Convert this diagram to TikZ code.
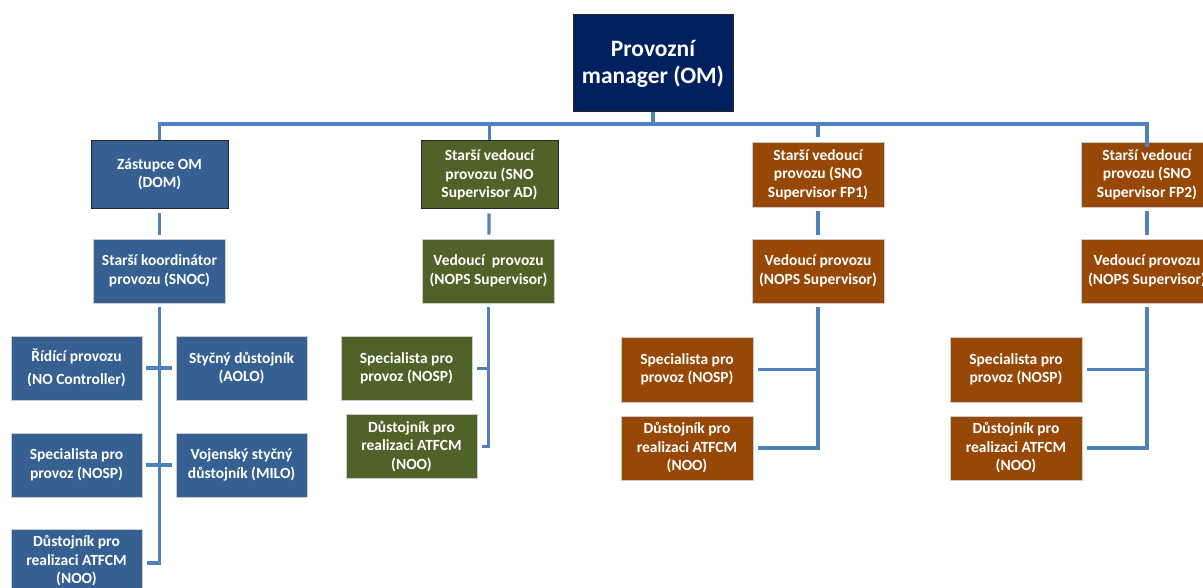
\documentclass[tikz,border=0pt]{standalone}
\usepackage{fontspec}
\setmainfont{Carlito}
\usetikzlibrary{positioning}
\definecolor{ChiefNavy}{RGB}{0,32,96}
\definecolor{DeputyBlue}{RGB}{54,96,146}
\definecolor{AdGreen}{RGB}{79,98,40}
\definecolor{FpBrown}{RGB}{151,71,6}
\definecolor{LinkBlue}{RGB}{79,129,189}

\begin{document}
\begin{tikzpicture}[x=1pt,y=-1pt,
    box/.style={rectangle,inner sep=0pt,align=center,text=white,
      font=\fontsize{15.5}{18.5}\selectfont\bfseries,
      minimum width=132pt,minimum height=64pt,draw=white!80!black,line width=0.6pt},
    headbox/.style={box,draw=black!85,line width=1pt,minimum height=68pt},
    link/.style={draw=LinkBlue,line width=3.2pt},
    gap/.style={shorten <=4pt,shorten >=4pt}]
  \useasboundingbox (0,0) rectangle (1203,588);

  \node[headbox,fill=ChiefNavy,minimum width=160pt,minimum height=97pt,
    font=\fontsize{23.5}{27}\selectfont\bfseries] (om) at (653,63.5) {Provozní\\manager (OM)};

  \node[headbox,fill=DeputyBlue,minimum width=137pt] (dom) at (159.5,174.5) {Zástupce OM\\(DOM)};
  \node[box,fill=DeputyBlue] (snoc) at (159.5,271) {Starší koordinátor\\provozu (SNOC)};
  \node[box,fill=DeputyBlue,minimum width=131pt] (ridici) at (76.5,368) {Řídící provozu\\[5pt](NO Controller)};
  \node[box,fill=DeputyBlue,minimum width=131pt] (aolo) at (241.5,368) {Styčný důstojník\\(AOLO)};
  \node[box,fill=DeputyBlue,minimum width=131pt] (nosp1) at (76.5,465) {Specialista pro\\provoz (NOSP)};
  \node[box,fill=DeputyBlue,minimum width=131pt] (milo) at (241.5,465) {Vojenský styčný\\důstojník (MILO)};
  \node[box,fill=DeputyBlue,minimum width=131pt] (noo1) at (76.5,561) {Důstojník pro\\realizaci ATFCM\\(NOO)};

  \node[headbox,fill=AdGreen,minimum width=137pt] (snoad) at (489.5,175) {Starší vedoucí\\provozu (SNO\\Supervisor AD)};
  \node[box,fill=AdGreen] (ved1) at (488.5,271) {Vedoucí\ \ provozu\\(NOPS Supervisor)};
  \node[box,fill=AdGreen,minimum width=131pt] (nosp2) at (406.5,368.5) {Specialista pro\\provoz (NOSP)};
  \node[box,fill=AdGreen,minimum width=131pt] (noo2) at (411.5,446.5) {Důstojník pro\\realizaci ATFCM\\(NOO)};

  \node[box,fill=FpBrown,minimum height=65pt] (snofp1) at (818,174.5) {Starší vedoucí\\provozu (SNO\\Supervisor FP1)};
  \node[box,fill=FpBrown] (ved2) at (818,271) {Vedoucí provozu\\(NOPS Supervisor)};
  \node[box,fill=FpBrown,minimum height=65pt] (nosp3) at (687,369.5) {Specialista pro\\provoz (NOSP)};
  \node[box,fill=FpBrown] (noo3) at (687,448) {Důstojník pro\\realizaci ATFCM\\(NOO)};

  \node[box,fill=FpBrown,minimum height=65pt] (snofp2) at (1147,174.5) {Starší vedoucí\\provozu (SNO\\Supervisor FP2)};
  \node[box,fill=FpBrown] (ved3) at (1147,271) {Vedoucí provozu\\(NOPS Supervisor)};
  \node[box,fill=FpBrown,minimum height=65pt] (nosp4) at (1016,369.5) {Specialista pro\\provoz (NOSP)};
  \node[box,fill=FpBrown] (noo4) at (1016,448) {Důstojník pro\\realizaci ATFCM\\(NOO)};

  \coordinate (bus) at (0,124);
  \draw[link] (om.south) -- (om.south |- bus);
  \draw[link] (dom.north) |- (snofp2.north |- bus) -- ([yshift=-5pt]snofp2.north);
  \draw[link] (snoad.north) -- (snoad.north |- bus);
  \draw[link,shorten >=5pt] (snofp1.north |- bus) -- (snofp1.north);

  \draw[link,gap] (dom) -- (snoc);
  \draw[link,gap] (snoad) -- (ved1);
  \draw[link,gap] (snofp1) -- (ved2);
  \draw[link,gap] (snofp2) -- (ved3);

  \draw[link,shorten <=4pt] (snoc.south) -- ([yshift=-2pt]snoc.south |- noo1.east) -- ([xshift=5pt,yshift=-2pt]noo1.east);
  \draw[link,gap] (ridici) -- (aolo);
  \draw[link,gap] (nosp1) -- (milo);

  \draw[link,shorten <=4pt] (ved1.south) -- (ved1.south |- noo2.east) -- ([xshift=5pt]noo2.east);
  \draw[link,shorten >=5pt] (ved1.south |- nosp2.east) -- (nosp2.east);
  \draw[link,shorten <=4pt] (ved2.south) -- (ved2.south |- noo3.east) -- ([xshift=5pt]noo3.east);
  \draw[link,shorten >=5pt] (ved2.south |- nosp3.east) -- (nosp3.east);
  \draw[link,shorten <=4pt] (ved3.south) -- (ved3.south |- noo4.east) -- ([xshift=5pt]noo4.east);
  \draw[link,shorten >=5pt] (ved3.south |- nosp4.east) -- (nosp4.east);
\end{tikzpicture}
\end{document}
